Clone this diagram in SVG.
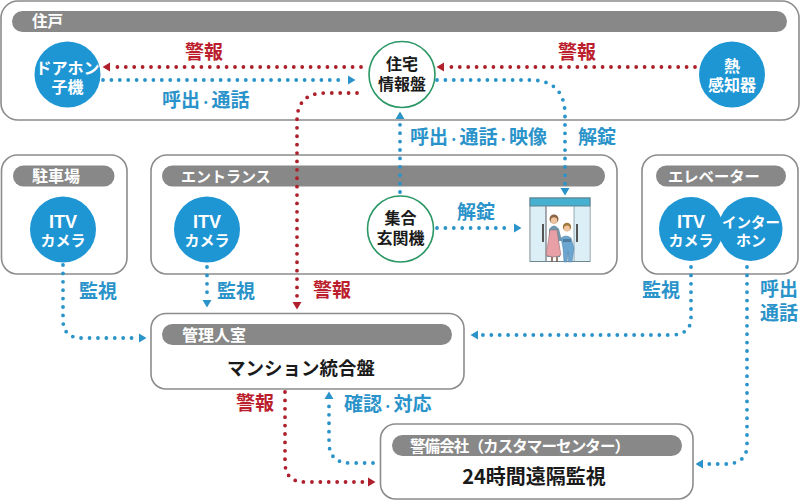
<svg xmlns="http://www.w3.org/2000/svg" width="800" height="500" viewBox="0 0 800 500">
<style>
text{font-family:"Noto Sans CJK JP","Noto Sans",sans-serif;font-weight:700}
.box{fill:#fff;stroke:#8c8c8c;stroke-width:1.6}
.bar{fill:#888}
.bt{fill:#fff;font-size:15.5px}
.c{fill:#1e96d4}
.g{fill:#fff;stroke:#2a9765;stroke-width:1.6}
.ct{fill:#fff;font-size:16px;text-anchor:middle}
.cm{fill:#fff;font-size:15px;text-anchor:middle}
.it{fill:#fff;font-size:18px;text-anchor:middle;font-family:"Liberation Sans",Arial,sans-serif}
.gt{fill:#1a1a1a;font-size:16px;text-anchor:middle}
.mt{fill:#1a1a1a;text-anchor:middle}
.lb{fill:#2a93c9;font-size:19px}
.lr{fill:#bb1e2d;font-size:19px}
.s{font-size:11.5px}
.db{fill:none;stroke:#2a93c9;stroke-width:3.8;stroke-linecap:round;stroke-dasharray:0 8.4;marker-end:url(#ab)}
.dr{fill:none;stroke:#ae1f2c;stroke-width:3.8;stroke-linecap:round;stroke-dasharray:0 8.4;marker-end:url(#ar)}
</style>
<defs>
<marker id="ab" markerUnits="userSpaceOnUse" markerWidth="10" markerHeight="12" viewBox="0 -6 10 12" refX="-3" refY="0" orient="auto" overflow="visible"><path d="M0-4.500L7.500 0L0 4.500Z" fill="#2a93c9"/></marker>
<marker id="ar" markerUnits="userSpaceOnUse" markerWidth="10" markerHeight="12" viewBox="0 -6 10 12" refX="-3" refY="0" orient="auto" overflow="visible"><path d="M0-4.500L7.500 0L0 4.500Z" fill="#b01f2c"/></marker>
</defs>
<g id="area-jukou"><rect class="box" x="1" y="1" width="798" height="119" rx="17"/><rect class="bar" x="12" y="11" width="775" height="21" rx="10.500"/><text class="bt" x="32" y="27">住戸</text></g>
<g id="area-parking"><rect class="box" x="1.500" y="155" width="125.500" height="119" rx="16"/><rect class="bar" x="13" y="165.500" width="101.500" height="21" rx="10.500"/><text class="bt" x="32" y="182" style="font-size:16px">駐車場</text></g>
<g id="area-entrance"><rect class="box" x="151" y="155" width="466" height="119" rx="16"/><rect class="bar" x="162" y="165.500" width="443" height="21" rx="10.500"/><text class="bt" x="181" y="182" style="font-size:15px">エントランス</text></g>
<g id="area-elevator"><rect class="box" x="642" y="155" width="156" height="119" rx="16"/><rect class="bar" x="656" y="165.500" width="130" height="21" rx="10.500"/><text class="bt" x="668" y="182" style="font-size:15.300px">エレベーター</text></g>
<g id="connectors">
<path class="dr" d="M361 67H113"/>
<path class="db" d="M103 80H345"/>
<path class="dr" d="M695 67H447"/>
<path class="dr" d="M357 93H325Q297 93 297 121V299"/>
<path class="db" d="M437 80H530Q565 80 565 115V185"/>
<path class="db" d="M400 192V122"/>
<path class="db" d="M437 228H511"/>
<path class="db" d="M63 265V320Q63 338 82 338H136"/>
<path class="db" d="M207 267V297"/>
<path class="db" d="M691 267V318Q691 335 670 335H481"/>
<path class="db" d="M747 267V445Q747 464 725 464H706"/>
<path class="dr" d="M285 392V462Q285 482 305 482H365"/>
<path class="db" d="M373 463H350Q329 463 329 442V402"/>
</g>
<g id="node-doorphone"><circle class="c" cx="67.500" cy="74.500" r="33"/><text class="ct" x="67.500" y="74">ドアホン</text><text class="ct" x="67.500" y="93">子機</text></g>
<g id="node-panel"><circle class="g" cx="402" cy="74.500" r="33"/><text class="gt" x="402" y="70">住宅</text><text class="gt" x="402" y="90">情報盤</text></g>
<g id="node-heat"><circle class="c" cx="732" cy="74.500" r="33"/><text class="ct" x="732" y="72">熱</text><text class="ct" x="732" y="91">感知器</text></g>
<g id="node-cam1"><circle class="c" cx="63" cy="229.500" r="33"/><text class="it" x="63" y="228">ITV</text><text class="cm" x="63" y="246">カメラ</text></g>
<g id="node-cam2"><circle class="c" cx="207" cy="229.500" r="33"/><text class="it" x="207" y="228">ITV</text><text class="cm" x="207" y="246">カメラ</text></g>
<g id="node-intercom"><circle class="g" cx="400.500" cy="229" r="33"/><text class="gt" x="400.500" y="224">集合</text><text class="gt" x="400.500" y="244">玄関機</text></g>
<g id="node-door">
<rect x="530" y="198" width="60" height="63.500" fill="#fff" stroke="#6f8791" stroke-width="1"/>
<rect x="531" y="206" width="15" height="55" fill="#dceef6"/><rect x="574" y="206" width="15.500" height="55" fill="#dceef6"/>
<rect x="530" y="198" width="60" height="8" fill="#45b0cf" stroke="#5f838f" stroke-width="1"/>
<path d="M546 206V261" stroke="#8a8f92" stroke-width="1.500" fill="none"/><path d="M574 206V261" stroke="#7d9aa6" stroke-width=".8" fill="none"/>
<rect x="542" y="224" width="2" height="18" fill="#555"/><rect x="576" y="224" width="2" height="18" fill="#555"/>
<path d="M552 257V262M557 257V262" stroke="#7a5a48" stroke-width="1.600"/>
<path d="M549 229Q554 222 559 229L562 241L559 241L560 257H547L549 241Z" fill="#6f98ad"/>
<path d="M550 230L557 230L559 244L561 255Q554 259 546 255Z" fill="#e8a0a6" stroke="#8a6a70" stroke-width=".5"/>
<circle cx="554" cy="219" r="4.500" fill="#8a6444"/><circle cx="554" cy="220.500" r="3.200" fill="#f0c49e"/>
<path d="M564 262L563 248L561 238Q566 234 571 238L574 248L572 262H568.500L568 252L567 262Z" fill="#6ba6d0" stroke="#4e7d9e" stroke-width=".5"/>
<rect x="563" y="239" width="8" height="3" fill="#4e7d9e"/>
<circle cx="567" cy="227" r="4.200" fill="#a07a3c"/><circle cx="567" cy="228.500" r="3" fill="#f0c49e"/>
</g>
<g id="node-cam3"><circle class="c" cx="691" cy="229" r="32"/><text class="it" x="691" y="228">ITV</text><text class="cm" x="691" y="246">カメラ</text></g>
<g id="node-interphone"><circle class="c" cx="750.500" cy="229" r="32"/><text class="cm" x="751" y="228" style="font-size:14.500px">インター</text><text class="cm" x="751" y="246">ホン</text></g>
<g id="node-manager"><rect class="box" x="151" y="313.500" width="313" height="75.500" rx="15"/><rect class="bar" x="162" y="324" width="290" height="21" rx="10.500"/><text class="bt" x="182" y="341" style="font-size:16px">管理人室</text><text class="mt" x="301" y="375" style="font-size:18.500px">マンション統合盤</text></g>
<g id="node-security"><rect class="box" x="380.500" y="424" width="312.500" height="75" rx="15"/><rect class="bar" x="392" y="435" width="290" height="21" rx="10.500"/><text class="bt" x="410" y="452" textLength="220" lengthAdjust="spacing" style="font-size:15.500px">警備会社（カスタマーセンター）</text><text class="mt" x="534" y="484" style="font-size:20px">24時間遠隔監視</text></g>
<g id="labels">
<text class="lr" x="185" y="59">警報</text>
<text class="lb" x="162" y="107">呼出<tspan class="s">・</tspan>通話</text>
<text class="lr" x="558" y="59">警報</text>
<text class="lb" x="410" y="144">呼出<tspan class="s">・</tspan>通話<tspan class="s">・</tspan>映像</text>
<text class="lb" x="578" y="144">解錠</text>
<text class="lb" x="457" y="219">解錠</text>
<text class="lb" x="79" y="298">監視</text>
<text class="lb" x="217" y="298">監視</text>
<text class="lr" x="313" y="297">警報</text>
<text class="lb" x="642" y="297">監視</text>
<text class="lb" x="760" y="296">呼出</text>
<text class="lb" x="760" y="320">通話</text>
<text class="lr" x="236" y="410">警報</text>
<text class="lb" x="344" y="411">確認<tspan class="s">・</tspan>対応</text>
</g>
</svg>
